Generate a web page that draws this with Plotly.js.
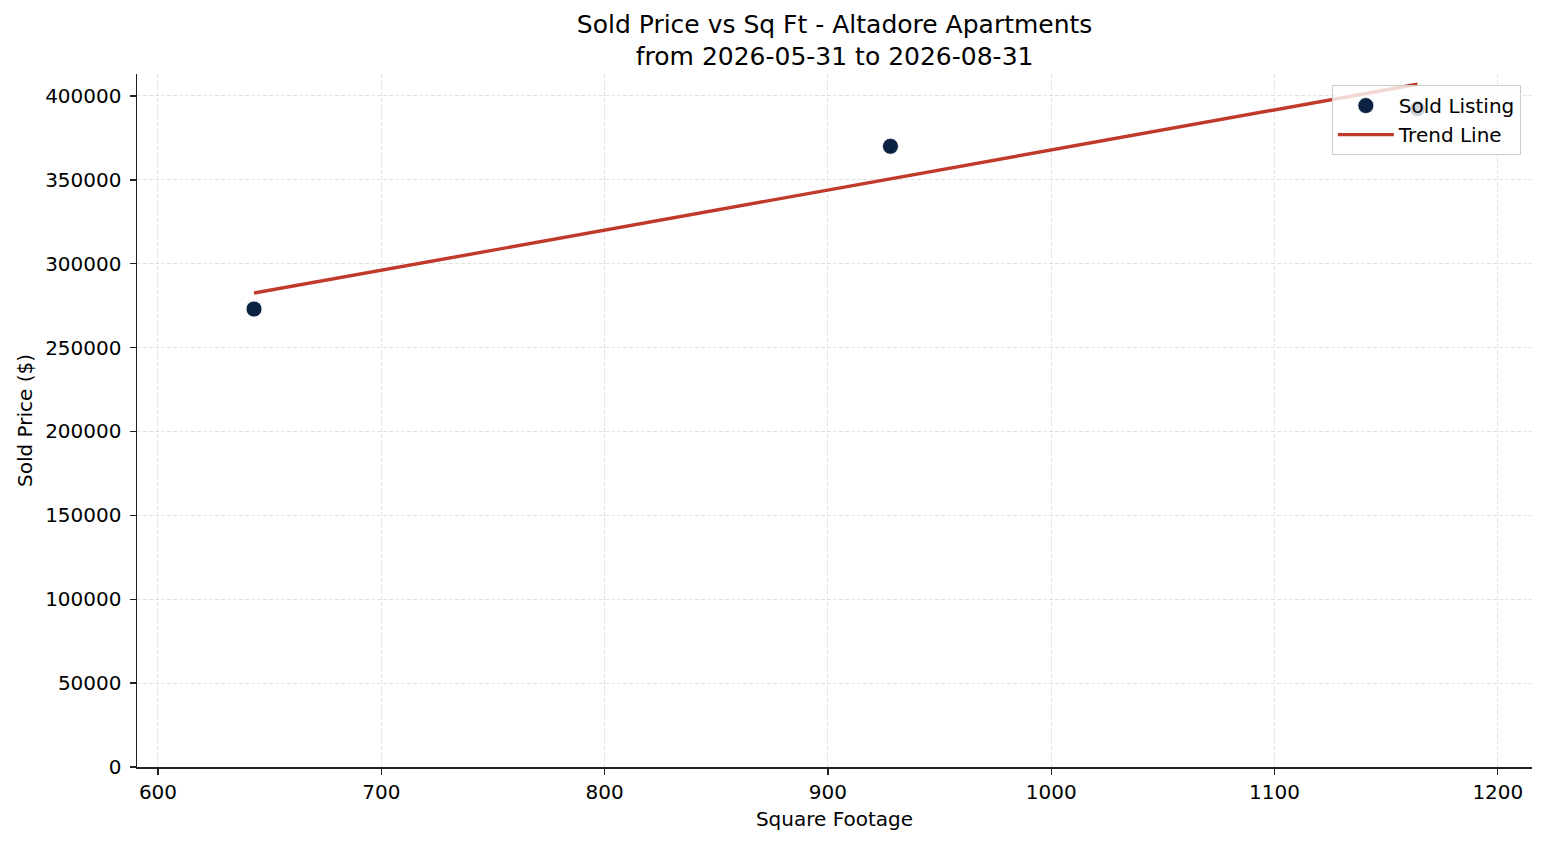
<!DOCTYPE html>
<html>
<head>
<meta charset="utf-8">
<script src="https://cdn.plot.ly/plotly-3.0.1.min.js"></script>
<style>
  body { margin: 0; background: #fff; }
  #chart { width: 1547px; height: 845px; }
</style>
</head>
<body>
<div id="chart"></div>
<script>
// sold listings (sq ft vs sold price)
var sqft = [643, 928, 1164];
var soldPrice = [273000, 370000, 392500];

// trend line end points
var trendX = [643, 1164];
var trendY = [282500, 407000];

var xTicks = [600, 700, 800, 900, 1000, 1100, 1200];
var yTicks = [0, 50000, 100000, 150000, 200000, 250000, 300000, 350000, 400000];

var font = "DejaVu Sans, sans-serif";

var points = {
  x: sqft,
  y: soldPrice,
  mode: "markers",
  type: "scatter",
  name: "Sold Listing",
  marker: { color: "#0b2243", size: 16, line: { color: "#ffffff", width: 0.8 } }
};

var trend = {
  x: trendX,
  y: trendY,
  mode: "lines",
  type: "scatter",
  name: "Trend Line",
  line: { color: "#c0392b", width: 3.4 }
};

var layout = {
  width: 1547,
  height: 845,
  margin: { l: 137, r: 15, t: 74, b: 78 },
  paper_bgcolor: "#fff",
  plot_bgcolor: "#fff",
  font: { family: font, size: 20, color: "#000" },
  title: {
    text: "Sold Price vs Sq Ft - Altadore Apartments<br>from 2026-05-31 to 2026-08-31",
    font: { family: font, size: 25, color: "#000" },
    x: 0.5395, xanchor: "center",
    y: 0.961, yref: "container", yanchor: "top"
  },
  xaxis: {
    title: { text: "Square Footage", font: { size: 20 }, standoff: 9 },
    range: [590.6, 1215.3],
    tickvals: xTicks,
    ticktext: xTicks.map(String),
    showline: true, linecolor: "#222", linewidth: 1.5,
    ticks: "outside", ticklen: 6, tickwidth: 1.3, tickcolor: "#222",
    showgrid: true, gridcolor: "#dcdcdc", gridwidth: 0.8, griddash: "4px,2px",
    zeroline: false
  },
  yaxis: {
    title: { text: "Sold Price ($)", font: { size: 20 }, standoff: 7 },
    range: [0, 413100],
    tickvals: yTicks,
    ticktext: yTicks.map(String),
    ticklabelstandoff: 4,
    showline: true, linecolor: "#222", linewidth: 1.5,
    ticks: "outside", ticklen: 6, tickwidth: 1.3, tickcolor: "#222",
    showgrid: true, gridcolor: "#dcdcdc", gridwidth: 0.8, griddash: "4px,2px",
    zeroline: false
  },
  legend: {
    x: 0.992, xanchor: "right",
    y: 0.984, yanchor: "top",
    bgcolor: "rgba(255,255,255,0.8)",
    bordercolor: "#cccccc", borderwidth: 1,
    itemwidth: 56,
    tracegroupgap: 0,
    font: { family: font, size: 20, color: "#000" }
  },
  showlegend: true
};

Plotly.newPlot("chart", [points, trend], layout, { displayModeBar: false, staticPlot: true });
</script>
</body>
</html>
